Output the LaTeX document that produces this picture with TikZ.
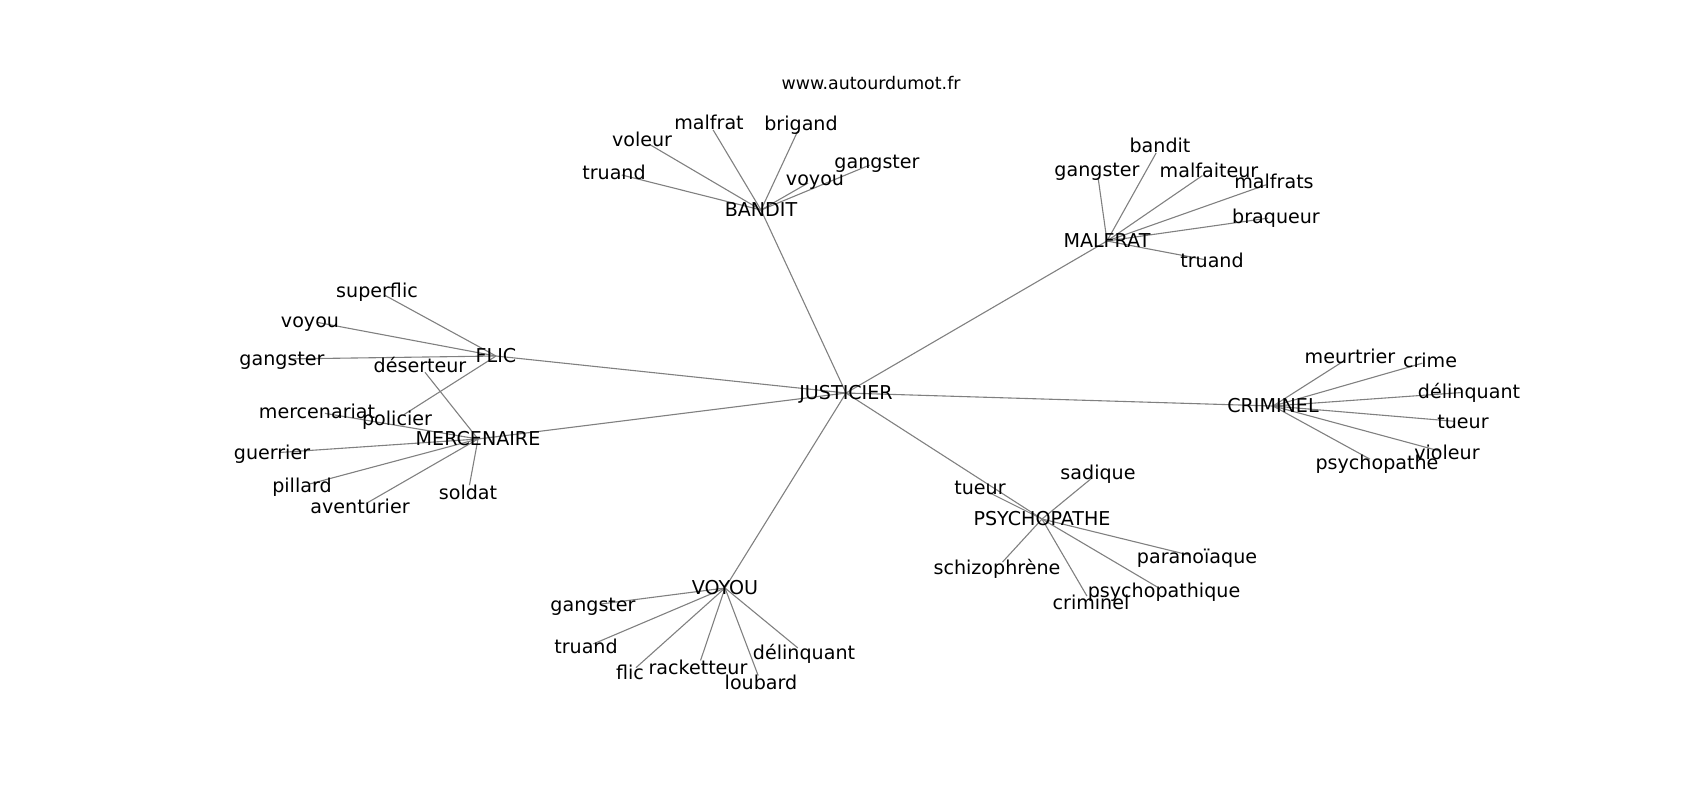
\documentclass[tikz,border=0pt]{standalone}
\usepackage{fontspec}
\setmainfont{DejaVu Sans}
\usetikzlibrary{%
  positioning,%
  backgrounds%
}

\begin{document}
\begin{tikzpicture}
  [
  x=0.5pt, y=-0.5pt,
  font=\fontsize{9.55}{11}\selectfont,
  word/.style={inner sep=0pt, anchor=center, text height=0.6em, text depth=0pt},
  hub/.style={word},
  edge/.style={draw=black!50, line width=0.55pt},
  leafedge/.style={edge, shorten >=4pt}
  ]

\useasboundingbox (0,0) rectangle (1700,800);

\node[font=\fontsize{8.7}{10}\selectfont] (site) at (871,83) {www.autourdumot.fr};

% hubs
\node[hub] (j) at (846,393) {JUSTICIER};
\node[hub] (b) at (761,210) {BANDIT};
\node[hub] (m) at (1107,241) {MALFRAT};
\node[hub] (f) at (496,356) {FLIC};
\node[hub] (me) at (478,439) {MERCENAIRE};
\node[hub] (c) at (1273,406) {CRIMINEL};
\node[hub] (p) at (1042,519) {PSYCHOPATHE};
\node[hub] (v) at (725,588) {VOYOU};

% leaves
\foreach \n/\w/\x/\y in {b1/truand/614/173, b2/voleur/642/140, b3/malfrat/709/123,
  b4/brigand/801/124, b5/voyou/815/179, b6/gangster/877/162,
  m1/gangster/1097/170, m2/bandit/1160/146, m3/malfaiteur/1209/171,
  m4/malfrats/1274/182, m5/braqueur/1276/217, m6/truand/1212/261,
  f1/superflic/377/291, f2/voyou/310/321, f3/gangster/282/359, f4/policier/397/419,
  me1/déserteur/420/366, me2/mercenariat/317/412, me3/guerrier/272/453,
  me4/pillard/302/486, me5/aventurier/360/507, me6/soldat/468/493,
  c1/meurtrier/1350/357, c2/crime/1430/361, c3/délinquant/1469/392,
  c4/tueur/1463/422, c5/violeur/1447/453, c6/psychopathe/1377/463,
  p1/tueur/980/488, p2/sadique/1098/473, p3/schizophrène/997/568,
  p4/criminel/1091/603, p5/psychopathique/1164/591, p6/paranoïaque/1197/557,
  v1/gangster/593/605, v2/truand/586/647, v3/flic/630/673,
  v4/racketteur/698/668, v5/loubard/761/683, v6/délinquant/804/653} {
  \node[word] (\n) at (\x,\y) {\w};
}

\begin{scope}[on background layer]
\draw[edge] (j.center) -- (b.center);
\draw[edge] (j.center) -- (m.center);
\draw[edge] (j.center) -- (f.center);
\draw[edge] (j.center) -- (me.center);
\draw[edge] (j.center) -- (c.center);
\draw[edge] (j.center) -- (p.center);
\draw[edge] (j.center) -- (v.center);

\foreach \h in {b,m,me,c,p,v} {
  \foreach \i in {1,...,6} {
    \draw[leafedge] (\h.center) -- (\h\i.center);
  }
}
\foreach \i in {1,...,4} {
  \draw[leafedge] (f.center) -- (f\i.center);
}
\end{scope}
\end{tikzpicture}
\end{document}
